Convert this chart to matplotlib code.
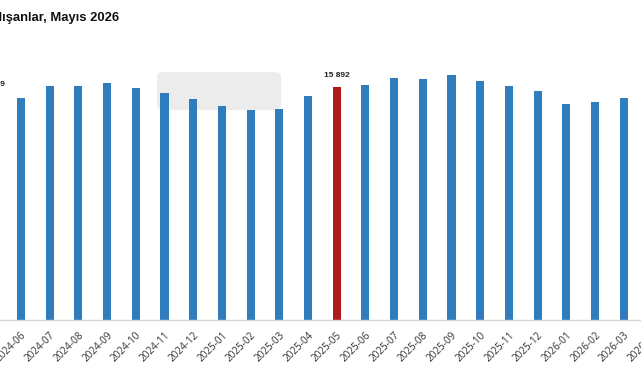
import matplotlib.pyplot as plt
from matplotlib.patches import FancyBboxPatch

# monthly values, 2024-05 .. 2026-04 (first and last bar fall outside the crop)
months = ['2024-05', '2024-06', '2024-07', '2024-08', '2024-09', '2024-10',
          '2024-11', '2024-12', '2025-01', '2025-02', '2025-03', '2025-04',
          '2025-05', '2025-06', '2025-07', '2025-08', '2025-09', '2025-10',
          '2025-11', '2025-12', '2026-01', '2026-02', '2026-03', '2026-04']
values = [15249, 15140, 15950, 15950, 16170, 15820,
          15480, 15070, 14600, 14310, 14380, 15280,
          15892, 16030, 16510, 16440, 16700, 16300,
          15950, 15600, 14740, 14860, 15140, 15300]
highlight = ['2024-05', '2025-05']
labelled = {'2024-05': '15 249', '2025-05': '15 892'}

blue = '#2f7dbd'
red = '#b0191b'

fig = plt.figure(figsize=(6.41, 3.80), dpi=100)

# axes is wider than the figure so the outer bars are cut like in the source
ax = fig.add_axes([-22.05 / 641, 60 / 380, 688.8 / 641, 260 / 380])
x = range(len(months))
colors = [red if m in highlight else blue for m in months]
ax.bar(x, values, width=0.28, color=colors, zorder=2)

for i, m in enumerate(months):
    if m in labelled:
        ax.annotate(labelled[m], (i, values[i]), xytext=(0, 6),
                    textcoords='offset points', ha='center', va='bottom',
                    fontsize=6, fontweight='bold', color='#222222',
                    family='Liberation Sans')

ax.set_xlim(-0.5, len(months) - 0.5)
ax.set_ylim(0, 15892 * 260 / 233)
ax.set_xticks(list(x))
ax.set_xticklabels(months, rotation=45, ha='right', rotation_mode='anchor',
                   fontsize=7.2, color='#333333', family='Open Sans')
ax.tick_params(axis='x', length=0, pad=7)
ax.set_yticks([])
for side in ['top', 'right', 'left']:
    ax.spines[side].set_visible(False)
ax.spines['bottom'].set_color('#d6d6d6')
ax.spines['bottom'].set_linewidth(1)

# empty tooltip box left over on the screenshot, behind the bars
tip = FancyBboxPatch((157 / 641, 1 - 110 / 380), 124 / 641, 38 / 380,
                     boxstyle='round,pad=0,rounding_size=0.012',
                     transform=fig.transFigure, facecolor='#ececec',
                     edgecolor='none', zorder=1, clip_on=False)
ax.add_patch(tip)

fig.text(119 / 641, 1 - 17.5 / 380, 'Çalışanlar, Mayıs 2026', ha='right',
         va='center', fontsize=9.4, fontweight='bold', color='#111111',
         family='Liberation Sans')

fig.savefig('out.png', dpi=100)
